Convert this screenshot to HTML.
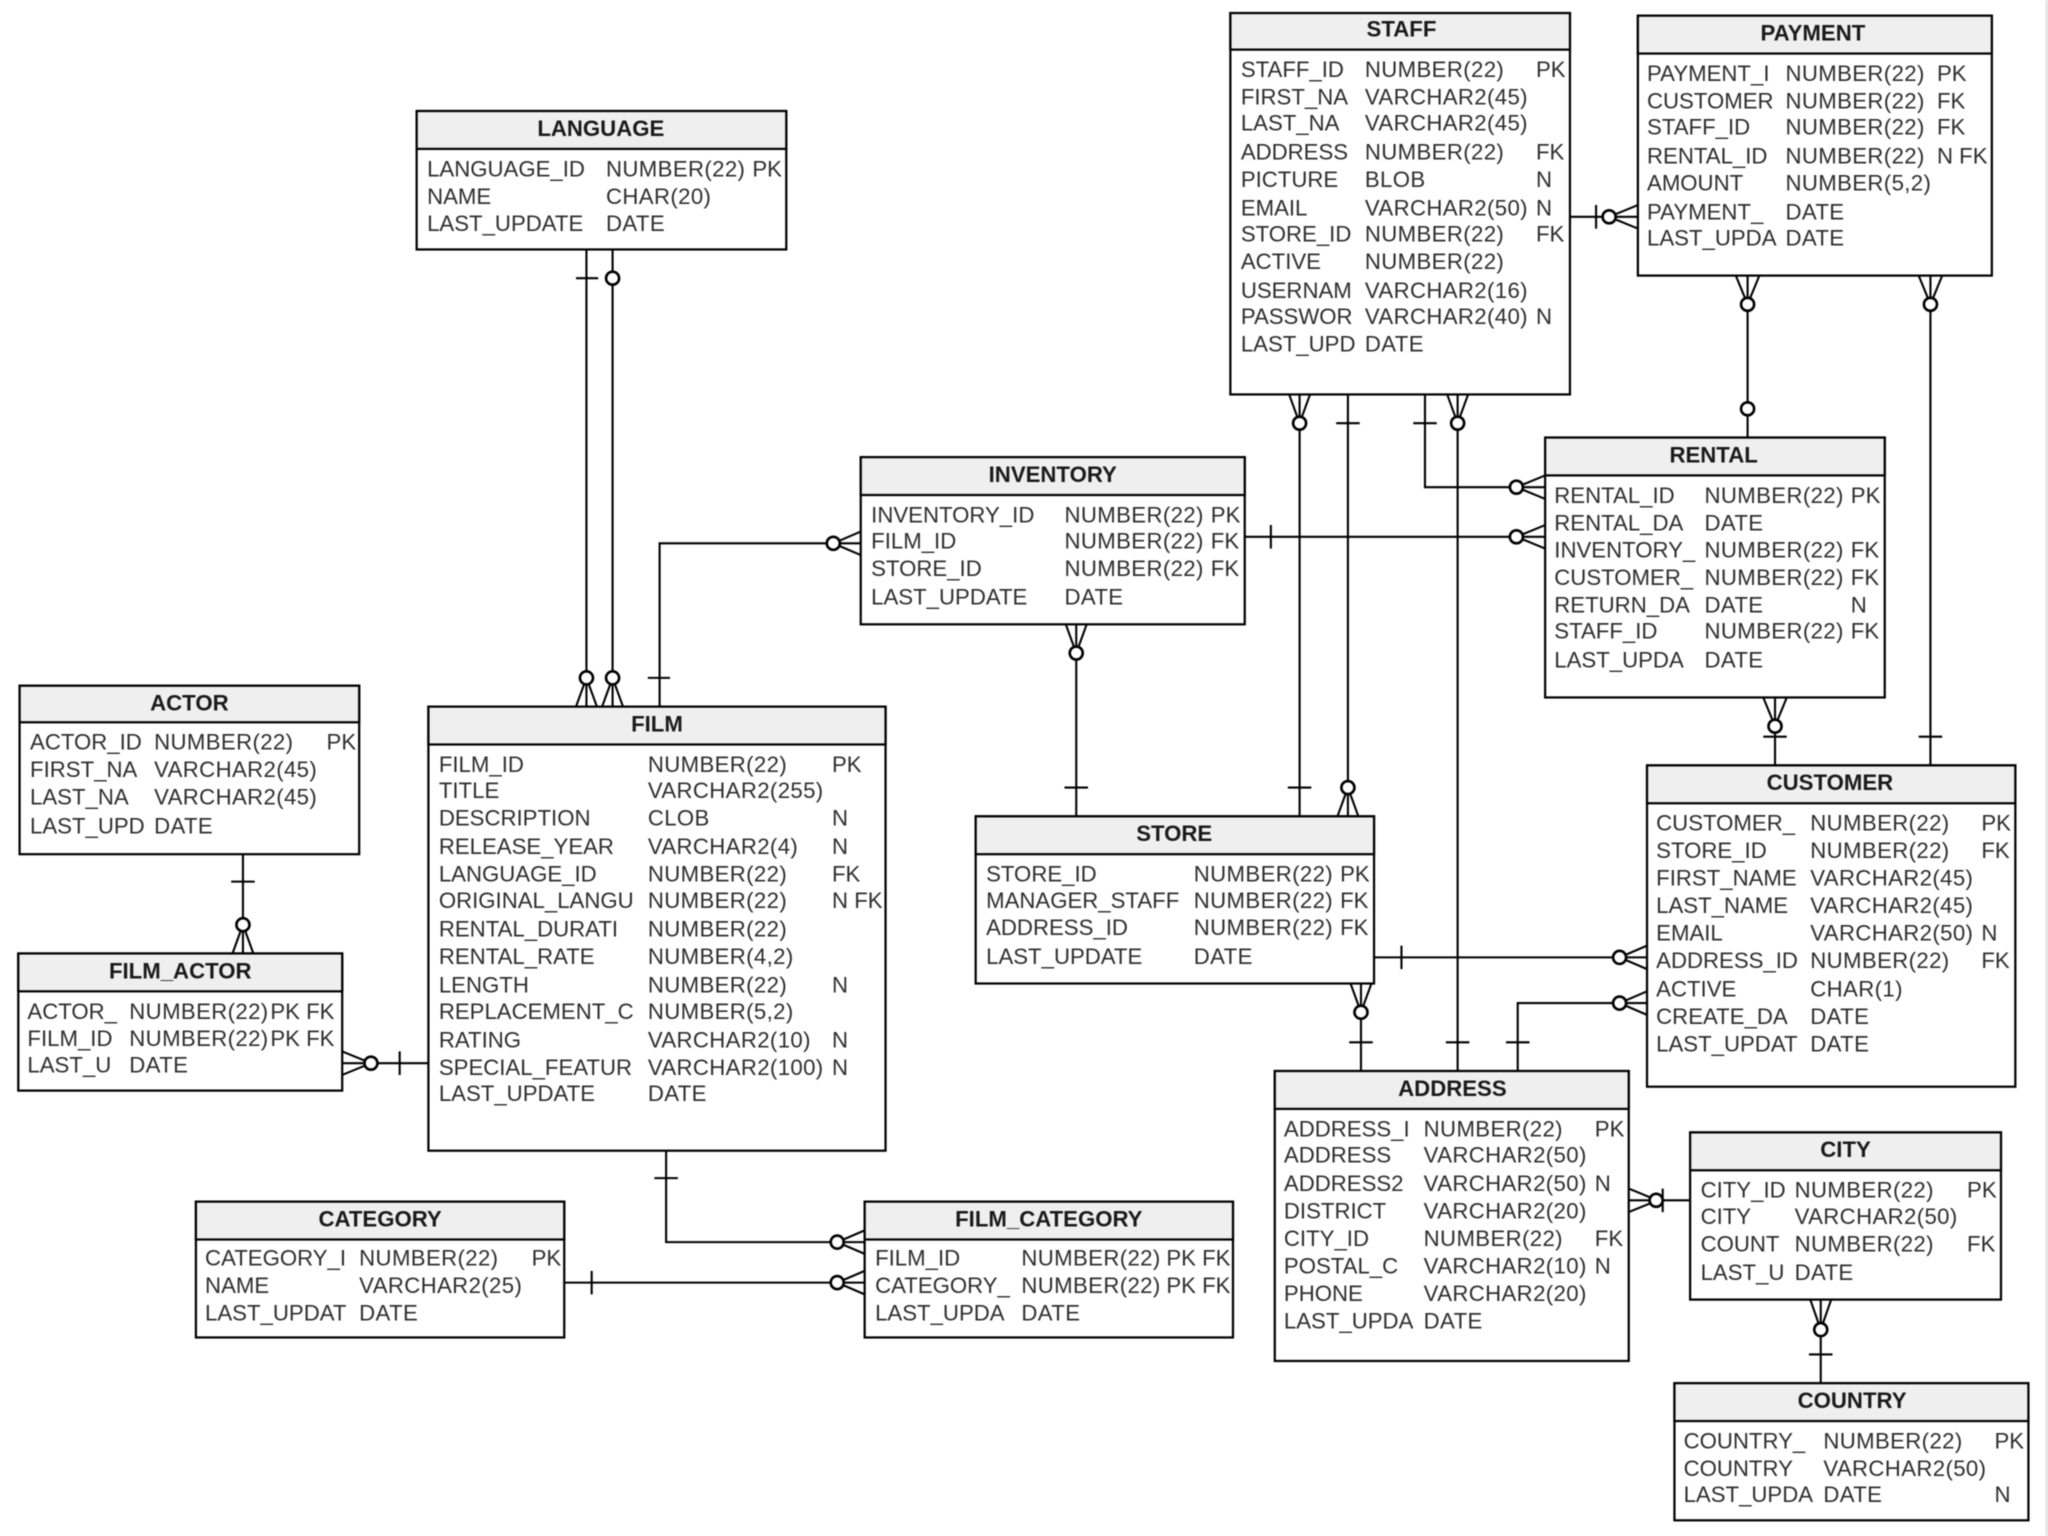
<!DOCTYPE html>
<html><head><meta charset="utf-8"><style>
html,body{margin:0;padding:0;background:#fff;width:2048px;height:1536px;overflow:hidden}
svg{display:block;filter:blur(.4px)}
text{font-family:"Liberation Sans",Arial,sans-serif;font-size:17px;fill:#2e2e2e}
.n{letter-spacing:.28px}
.t{font-weight:bold;text-anchor:middle;fill:#1a1a1a}
.b{fill:#fff;stroke:#000;stroke-width:1.7}
.h{fill:#efefef;stroke:#000;stroke-width:1.7}
.l{fill:none;stroke:#000;stroke-width:1.6}
.c{fill:#fff;stroke:#000;stroke-width:2}
</style></head><body>
<svg width="2048" height="1536" viewBox="0 0 1568 1176" xmlns="http://www.w3.org/2000/svg">
<rect x="1566" y="0" width="2" height="1176" fill="#e2e2e2"/>
<!-- connectors -->
<path class="l" d="M449 191V541M441 213H458M469 191V541M441 541L449 519L457 541M461 541L469 519L477 541
M505 541V416H659M496 519H513M659 407L638 416L659 425
M953 411H1183M973 402V420M1183 402L1161 411L1183 420
M824 478V625M816 478L824 500L832 478M815 603H833
M995 302V625M987 302L995 324L1003 302M986 603H1004
M1032 302V625M1023 324H1041M1024 625L1032 603L1040 625
M1091 302V373H1183M1082 324H1100M1183 364L1161 373L1183 382
M1116 302V820M1108 302L1116 324L1124 302M1107 798H1125
M1202 166H1254M1222 157V175M1254 157L1232 166L1254 175
M1338 211V335M1329 211L1338 233L1347 211
M1478 211V586M1469 211L1478 233L1487 211M1469 564H1487
M1359 534V586M1350 534L1359 556L1368 534M1350 564H1368
M1052 733H1261M1073 724V742M1261 724L1240 733L1261 742
M1042 753V820M1034 753L1042 775L1050 753M1033 798H1051
M1162 820V768H1261M1153 798H1171M1261 759L1240 768L1261 777
M1247 919H1294M1247 910L1269 919L1247 928M1273 910V928
M1394 995V1059M1386 995L1394 1018L1402 995M1385 1037H1403
M186 654V730M177 675H195M178 730L186 708L194 730
M262 814H328M262 805L284 814L262 823M306 805V823
M510 881V951H662M501 902H519M662 942L641 951L662 960
M432 982H662M453 973V991M662 973L641 982L662 991"/>
<g class="c">
<circle cx="469" cy="213" r="5"/><circle cx="449" cy="519" r="5"/><circle cx="469" cy="519" r="5"/>
<circle cx="638" cy="416" r="5"/><circle cx="1161" cy="411" r="5"/><circle cx="824" cy="500" r="5"/>
<circle cx="995" cy="324" r="5"/><circle cx="1032" cy="603" r="5"/><circle cx="1161" cy="373" r="5"/>
<circle cx="1116" cy="324" r="5"/><circle cx="1232" cy="166" r="5"/><circle cx="1338" cy="233" r="5"/>
<circle cx="1338" cy="313" r="5"/><circle cx="1478" cy="233" r="5"/><circle cx="1359" cy="556" r="5"/>
<circle cx="1240" cy="733" r="5"/><circle cx="1042" cy="775" r="5"/><circle cx="1240" cy="768" r="5"/>
<circle cx="1268" cy="919" r="5"/><circle cx="1394" cy="1018" r="5"/><circle cx="186" cy="708" r="5"/>
<circle cx="284" cy="814" r="5"/><circle cx="641" cy="951" r="5"/><circle cx="641" cy="982" r="5"/>
</g>

<!-- LANGUAGE -->
<rect class="b" x="319" y="85" width="283" height="106"/><rect class="h" x="319" y="85" width="283" height="29"/>
<text class="t" x="460" y="104">LANGUAGE</text>
<text x="327" y="135">LANGUAGE_ID</text><text class="n" x="464" y="135">NUMBER(22)</text><text x="576" y="135">PK</text>
<text x="327" y="156">NAME</text><text class="n" x="464" y="156">CHAR(20)</text>
<text x="327" y="177">LAST_UPDATE</text><text class="n" x="464" y="177">DATE</text>

<!-- STAFF -->
<rect class="b" x="942" y="10" width="260" height="292"/><rect class="h" x="942" y="10" width="260" height="28"/>
<text class="t" x="1073" y="28">STAFF</text>
<text x="950" y="59">STAFF_ID</text><text class="n" x="1045" y="59">NUMBER(22)</text><text x="1176" y="59">PK</text>
<text x="950" y="80">FIRST_NA</text><text class="n" x="1045" y="80">VARCHAR2(45)</text>
<text x="950" y="100">LAST_NA</text><text class="n" x="1045" y="100">VARCHAR2(45)</text>
<text x="950" y="122">ADDRESS</text><text class="n" x="1045" y="122">NUMBER(22)</text><text x="1176" y="122">FK</text>
<text x="950" y="143">PICTURE</text><text class="n" x="1045" y="143">BLOB</text><text x="1176" y="143">N</text>
<text x="950" y="165">EMAIL</text><text class="n" x="1045" y="165">VARCHAR2(50)</text><text x="1176" y="165">N</text>
<text x="950" y="185">STORE_ID</text><text class="n" x="1045" y="185">NUMBER(22)</text><text x="1176" y="185">FK</text>
<text x="950" y="206">ACTIVE</text><text class="n" x="1045" y="206">NUMBER(22)</text>
<text x="950" y="228">USERNAM</text><text class="n" x="1045" y="228">VARCHAR2(16)</text>
<text x="950" y="248">PASSWOR</text><text class="n" x="1045" y="248">VARCHAR2(40)</text><text x="1176" y="248">N</text>
<text x="950" y="269">LAST_UPD</text><text class="n" x="1045" y="269">DATE</text>

<!-- PAYMENT -->
<rect class="b" x="1254" y="12" width="271" height="199"/><rect class="h" x="1254" y="12" width="271" height="29"/>
<text class="t" x="1388" y="31">PAYMENT</text>
<text x="1261" y="62">PAYMENT_I</text><text class="n" x="1367" y="62">NUMBER(22)</text><text x="1483" y="62">PK</text>
<text x="1261" y="83">CUSTOMER</text><text class="n" x="1367" y="83">NUMBER(22)</text><text x="1483" y="83">FK</text>
<text x="1261" y="103">STAFF_ID</text><text class="n" x="1367" y="103">NUMBER(22)</text><text x="1483" y="103">FK</text>
<text x="1261" y="125">RENTAL_ID</text><text class="n" x="1367" y="125">NUMBER(22)</text><text x="1483" y="125">N FK</text>
<text x="1261" y="146">AMOUNT</text><text class="n" x="1367" y="146">NUMBER(5,2)</text>
<text x="1261" y="168">PAYMENT_</text><text class="n" x="1367" y="168">DATE</text>
<text x="1261" y="188">LAST_UPDA</text><text class="n" x="1367" y="188">DATE</text>

<!-- RENTAL -->
<rect class="b" x="1183" y="335" width="260" height="199"/><rect class="h" x="1183" y="335" width="260" height="29"/>
<text class="t" x="1312" y="354">RENTAL</text>
<text x="1190" y="385">RENTAL_ID</text><text class="n" x="1305" y="385">NUMBER(22)</text><text x="1417" y="385">PK</text>
<text x="1190" y="406">RENTAL_DA</text><text class="n" x="1305" y="406">DATE</text>
<text x="1190" y="427">INVENTORY_</text><text class="n" x="1305" y="427">NUMBER(22)</text><text x="1417" y="427">FK</text>
<text x="1190" y="448">CUSTOMER_</text><text class="n" x="1305" y="448">NUMBER(22)</text><text x="1417" y="448">FK</text>
<text x="1190" y="469">RETURN_DA</text><text class="n" x="1305" y="469">DATE</text><text x="1417" y="469">N</text>
<text x="1190" y="489">STAFF_ID</text><text class="n" x="1305" y="489">NUMBER(22)</text><text x="1417" y="489">FK</text>
<text x="1190" y="511">LAST_UPDA</text><text class="n" x="1305" y="511">DATE</text>

<!-- INVENTORY -->
<rect class="b" x="659" y="350" width="294" height="128"/><rect class="h" x="659" y="350" width="294" height="29"/>
<text class="t" x="806" y="369">INVENTORY</text>
<text x="667" y="400">INVENTORY_ID</text><text class="n" x="815" y="400">NUMBER(22)</text><text x="927" y="400">PK</text>
<text x="667" y="420">FILM_ID</text><text class="n" x="815" y="420">NUMBER(22)</text><text x="927" y="420">FK</text>
<text x="667" y="441">STORE_ID</text><text class="n" x="815" y="441">NUMBER(22)</text><text x="927" y="441">FK</text>
<text x="667" y="463">LAST_UPDATE</text><text class="n" x="815" y="463">DATE</text>

<!-- FILM -->
<rect class="b" x="328" y="541" width="350" height="340"/><rect class="h" x="328" y="541" width="350" height="29"/>
<text class="t" x="503" y="560">FILM</text>
<text x="336" y="591">FILM_ID</text><text class="n" x="496" y="591">NUMBER(22)</text><text x="637" y="591">PK</text>
<text x="336" y="611">TITLE</text><text class="n" x="496" y="611">VARCHAR2(255)</text>
<text x="336" y="632">DESCRIPTION</text><text class="n" x="496" y="632">CLOB</text><text x="637" y="632">N</text>
<text x="336" y="654">RELEASE_YEAR</text><text class="n" x="496" y="654">VARCHAR2(4)</text><text x="637" y="654">N</text>
<text x="336" y="675">LANGUAGE_ID</text><text class="n" x="496" y="675">NUMBER(22)</text><text x="637" y="675">FK</text>
<text x="336" y="695">ORIGINAL_LANGU</text><text class="n" x="496" y="695">NUMBER(22)</text><text x="637" y="695">N FK</text>
<text x="336" y="717">RENTAL_DURATI</text><text class="n" x="496" y="717">NUMBER(22)</text>
<text x="336" y="738">RENTAL_RATE</text><text class="n" x="496" y="738">NUMBER(4,2)</text>
<text x="336" y="760">LENGTH</text><text class="n" x="496" y="760">NUMBER(22)</text><text x="637" y="760">N</text>
<text x="336" y="780">REPLACEMENT_C</text><text class="n" x="496" y="780">NUMBER(5,2)</text>
<text x="336" y="802">RATING</text><text class="n" x="496" y="802">VARCHAR2(10)</text><text x="637" y="802">N</text>
<text x="336" y="823">SPECIAL_FEATUR</text><text class="n" x="496" y="823">VARCHAR2(100)</text><text x="637" y="823">N</text>
<text x="336" y="843">LAST_UPDATE</text><text class="n" x="496" y="843">DATE</text>

<!-- ACTOR -->
<rect class="b" x="15" y="525" width="260" height="129"/><rect class="h" x="15" y="525" width="260" height="28"/>
<text class="t" x="145" y="544">ACTOR</text>
<text x="23" y="574">ACTOR_ID</text><text class="n" x="118" y="574">NUMBER(22)</text><text x="250" y="574">PK</text>
<text x="23" y="595">FIRST_NA</text><text class="n" x="118" y="595">VARCHAR2(45)</text>
<text x="23" y="616">LAST_NA</text><text class="n" x="118" y="616">VARCHAR2(45)</text>
<text x="23" y="638">LAST_UPD</text><text class="n" x="118" y="638">DATE</text>

<!-- FILM_ACTOR -->
<rect class="b" x="14" y="730" width="248" height="105"/><rect class="h" x="14" y="730" width="248" height="29"/>
<text class="t" x="138" y="749">FILM_ACTOR</text>
<text x="21" y="780">ACTOR_</text><text class="n" x="99" y="780">NUMBER(22)</text><text x="207" y="780">PK FK</text>
<text x="21" y="801">FILM_ID</text><text class="n" x="99" y="801">NUMBER(22)</text><text x="207" y="801">PK FK</text>
<text x="21" y="821">LAST_U</text><text class="n" x="99" y="821">DATE</text>

<!-- CATEGORY -->
<rect class="b" x="150" y="920" width="282" height="104"/><rect class="h" x="150" y="920" width="282" height="29"/>
<text class="t" x="291" y="939">CATEGORY</text>
<text x="157" y="969">CATEGORY_I</text><text class="n" x="275" y="969">NUMBER(22)</text><text x="407" y="969">PK</text>
<text x="157" y="990">NAME</text><text class="n" x="275" y="990">VARCHAR2(25)</text>
<text x="157" y="1011">LAST_UPDAT</text><text class="n" x="275" y="1011">DATE</text>

<!-- FILM_CATEGORY -->
<rect class="b" x="662" y="920" width="282" height="104"/><rect class="h" x="662" y="920" width="282" height="29"/>
<text class="t" x="803" y="939">FILM_CATEGORY</text>
<text x="670" y="969">FILM_ID</text><text class="n" x="782" y="969">NUMBER(22)</text><text x="893" y="969">PK FK</text>
<text x="670" y="990">CATEGORY_</text><text class="n" x="782" y="990">NUMBER(22)</text><text x="893" y="990">PK FK</text>
<text x="670" y="1011">LAST_UPDA</text><text class="n" x="782" y="1011">DATE</text>

<!-- STORE -->
<rect class="b" x="747" y="625" width="305" height="128"/><rect class="h" x="747" y="625" width="305" height="29"/>
<text class="t" x="899" y="644">STORE</text>
<text x="755" y="675">STORE_ID</text><text class="n" x="914" y="675">NUMBER(22)</text><text x="1026" y="675">PK</text>
<text x="755" y="695">MANAGER_STAFF</text><text class="n" x="914" y="695">NUMBER(22)</text><text x="1026" y="695">FK</text>
<text x="755" y="716">ADDRESS_ID</text><text class="n" x="914" y="716">NUMBER(22)</text><text x="1026" y="716">FK</text>
<text x="755" y="738">LAST_UPDATE</text><text class="n" x="914" y="738">DATE</text>

<!-- CUSTOMER -->
<rect class="b" x="1261" y="586" width="282" height="246"/><rect class="h" x="1261" y="586" width="282" height="29"/>
<text class="t" x="1401" y="605">CUSTOMER</text>
<text x="1268" y="636">CUSTOMER_</text><text class="n" x="1386" y="636">NUMBER(22)</text><text x="1517" y="636">PK</text>
<text x="1268" y="657">STORE_ID</text><text class="n" x="1386" y="657">NUMBER(22)</text><text x="1517" y="657">FK</text>
<text x="1268" y="678">FIRST_NAME</text><text class="n" x="1386" y="678">VARCHAR2(45)</text>
<text x="1268" y="699">LAST_NAME</text><text class="n" x="1386" y="699">VARCHAR2(45)</text>
<text x="1268" y="720">EMAIL</text><text class="n" x="1386" y="720">VARCHAR2(50)</text><text x="1517" y="720">N</text>
<text x="1268" y="741">ADDRESS_ID</text><text class="n" x="1386" y="741">NUMBER(22)</text><text x="1517" y="741">FK</text>
<text x="1268" y="763">ACTIVE</text><text class="n" x="1386" y="763">CHAR(1)</text>
<text x="1268" y="784">CREATE_DA</text><text class="n" x="1386" y="784">DATE</text>
<text x="1268" y="805">LAST_UPDAT</text><text class="n" x="1386" y="805">DATE</text>

<!-- ADDRESS -->
<rect class="b" x="976" y="820" width="271" height="222"/><rect class="h" x="976" y="820" width="271" height="29"/>
<text class="t" x="1112" y="839">ADDRESS</text>
<text x="983" y="870">ADDRESS_I</text><text class="n" x="1090" y="870">NUMBER(22)</text><text x="1221" y="870">PK</text>
<text x="983" y="890">ADDRESS</text><text class="n" x="1090" y="890">VARCHAR2(50)</text>
<text x="983" y="912">ADDRESS2</text><text class="n" x="1090" y="912">VARCHAR2(50)</text><text x="1221" y="912">N</text>
<text x="983" y="933">DISTRICT</text><text class="n" x="1090" y="933">VARCHAR2(20)</text>
<text x="983" y="954">CITY_ID</text><text class="n" x="1090" y="954">NUMBER(22)</text><text x="1221" y="954">FK</text>
<text x="983" y="975">POSTAL_C</text><text class="n" x="1090" y="975">VARCHAR2(10)</text><text x="1221" y="975">N</text>
<text x="983" y="996">PHONE</text><text class="n" x="1090" y="996">VARCHAR2(20)</text>
<text x="983" y="1017">LAST_UPDA</text><text class="n" x="1090" y="1017">DATE</text>

<!-- CITY -->
<rect class="b" x="1294" y="867" width="238" height="128"/><rect class="h" x="1294" y="867" width="238" height="29"/>
<text class="t" x="1413" y="886">CITY</text>
<text x="1302" y="917">CITY_ID</text><text class="n" x="1374" y="917">NUMBER(22)</text><text x="1506" y="917">PK</text>
<text x="1302" y="937">CITY</text><text class="n" x="1374" y="937">VARCHAR2(50)</text>
<text x="1302" y="958">COUNT</text><text class="n" x="1374" y="958">NUMBER(22)</text><text x="1506" y="958">FK</text>
<text x="1302" y="980">LAST_U</text><text class="n" x="1374" y="980">DATE</text>

<!-- COUNTRY -->
<rect class="b" x="1282" y="1059" width="271" height="105"/><rect class="h" x="1282" y="1059" width="271" height="29"/>
<text class="t" x="1418" y="1078">COUNTRY</text>
<text x="1289" y="1109">COUNTRY_</text><text class="n" x="1396" y="1109">NUMBER(22)</text><text x="1527" y="1109">PK</text>
<text x="1289" y="1130">COUNTRY</text><text class="n" x="1396" y="1130">VARCHAR2(50)</text>
<text x="1289" y="1150">LAST_UPDA</text><text class="n" x="1396" y="1150">DATE</text><text x="1527" y="1150">N</text>
</svg>
</body></html>
